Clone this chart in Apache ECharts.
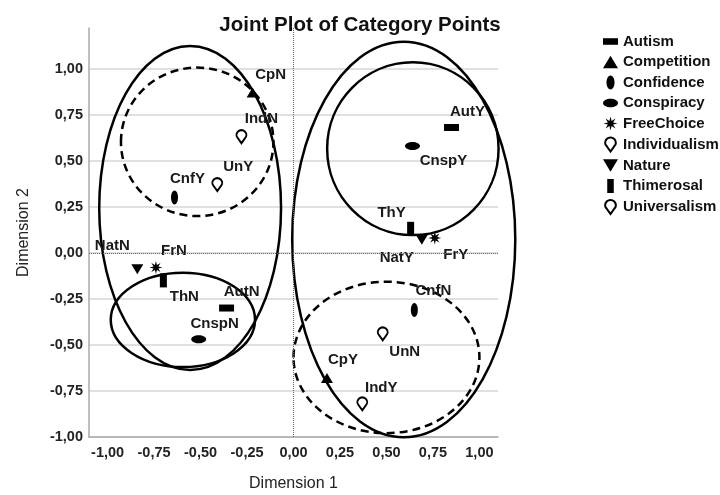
<!DOCTYPE html>
<html>
<head>
<meta charset="utf-8">
<script src="https://cdn.jsdelivr.net/npm/echarts@6/dist/echarts.min.js"></script>
<style>
  html, body { margin: 0; padding: 0; background: #fff; }
  #container { width: 720px; height: 495px; }
</style>
</head>
<body>
<div id="container"></div>
<script>
// data
var categories = ['Autism', 'Competition', 'Confidence', 'Conspiracy', 'FreeChoice',
    'Individualism', 'Nature', 'Thimerosal', 'Universalism'];
var pointNames = [['AutY', 'AutN'], ['CpY', 'CpN'], ['CnfY', 'CnfN'], ['CnspY', 'CnspN'], ['FrY', 'FrN'],
    ['IndY', 'IndN'], ['NatY', 'NatN'], ['ThY', 'ThN'], ['UnY', 'UnN']];
var dim1 = [[0.85, -0.36], [0.18, -0.22], [-0.64, 0.65], [0.64, -0.51], [0.76, -0.74],
    [0.37, -0.28], [0.69, -0.84], [0.63, -0.70], [-0.41, 0.48]];
var dim2 = [[0.68, -0.30], [-0.68, 0.87], [0.30, -0.31], [0.58, -0.47], [0.08, -0.08],
    [-0.82, 0.63], [0.07, -0.09], [0.13, -0.15], [0.37, -0.44]];

// ellipses drawn over the plot (centre, radii in dimension units)
var ellipseCx = [-0.556, -0.518, -0.595, 0.593, 0.642, 0.500];
var ellipseCy = [0.243, 0.602, -0.364, 0.072, 0.565, -0.568];
var ellipseRx = [0.489, 0.410, 0.388, 0.600, 0.461, 0.500];
var ellipseRy = [0.879, 0.403, 0.256, 1.073, 0.469, 0.411];
var ellipseDashed = [0, 1, 0, 0, 0, 1];

var xTicks = [-1, -0.75, -0.5, -0.25, 0, 0.25, 0.5, 0.75, 1];

// label placement (px offsets from the marker)
var labelOffset = {
    AutY: [16, -16], AutN: [15, -16],
    CpY: [16, -18], CpN: [18, -18],
    CnfY: [13, -19], CnfN: [19, -19],
    CnspY: [31, 15], CnspN: [16, -15],
    FrY: [21, 17], FrN: [18, -17],
    IndY: [19, -16], IndN: [20, -18],
    NatY: [-25, 18], NatN: [-25, -23],
    ThY: [-19, -16], ThN: [21, 16],
    UnY: [21, -18], UnN: [22, 18]
};

// symbols
function starPath(n, ro, ri) {
    var p = [];
    for (var i = 0; i < n * 2; i++) {
        var r = i % 2 ? ri : ro;
        var a = Math.PI * i / n - Math.PI / 2;
        p.push((i ? 'L' : 'M') + (ro + r * Math.cos(a)).toFixed(2) + ',' + (ro + r * Math.sin(a)).toFixed(2));
    }
    return 'path://' + p.join('') + 'Z';
}
var pinPath = 'path://M5,13L1.6,8.2C0.6,7.2 0,6.2 0,5C0,2.24 2.24,0 5,0C7.76,0 10,2.24 10,5C10,6.2 9.4,7.2 8.4,8.2Z';
var symbols = [
    { symbol: 'path://M0,0H16V7H0Z', size: [15, 7] },
    { symbol: 'path://M6,0L12,10H0Z', size: [12, 10] },
    { symbol: 'path://M4,0C6.21,0 8,3.13 8,7C8,10.87 6.21,14 4,14C1.79,14 0,10.87 0,7C0,3.13 1.79,0 4,0Z', size: [7, 14] },
    { symbol: 'path://M7,0C10.87,0 14,1.79 14,4C14,6.21 10.87,8 7,8C3.13,8 0,6.21 0,4C0,1.79 3.13,0 7,0Z', size: [15, 8] },
    { symbol: starPath(8, 7, 2.8), size: [13, 13] },
    { symbol: pinPath, size: [10, 13], hollow: true },
    { symbol: 'path://M0,0H12L6,10Z', size: [12, 10] },
    { symbol: 'path://M0,0H7V15H0Z', size: [7, 14] },
    { symbol: pinPath, size: [10, 13], hollow: true }
];

function fmt(v) {
    return v.toFixed(2).replace('.', ',');
}

var dom = document.getElementById('container');
var myChart = echarts.init(dom, null, { renderer: 'canvas' });

var series = [];

// ellipses
var ellipseData = [];
for (var e = 0; e < ellipseCx.length; e++) {
    ellipseData.push([ellipseCx[e], ellipseCy[e], ellipseRx[e], ellipseRy[e], ellipseDashed[e]]);
}
series.push({
    type: 'custom',
    silent: true,
    clip: false,
    z: 1,
    encode: { x: 0, y: 1 },
    data: ellipseData,
    renderItem: function (params, api) {
        var c = api.coord([api.value(0), api.value(1)]);
        var s = api.size([api.value(2), api.value(3)]);
        return {
            type: 'ellipse',
            shape: { cx: c[0], cy: c[1], rx: s[0], ry: s[1] },
            style: {
                fill: null,
                stroke: '#000',
                lineWidth: 2.5,
                lineDash: api.value(4) ? [8, 5] : null
            }
        };
    }
});

// points
for (var i = 0; i < categories.length; i++) {
    var pts = [];
    for (var j = 0; j < 2; j++) {
        var nm = pointNames[i][j];
        pts.push({
            name: nm,
            value: [dim1[i][j], dim2[i][j]],
            label: { offset: labelOffset[nm] }
        });
    }
    var s = {
        name: categories[i],
        type: 'scatter',
        z: 3,
        symbol: symbols[i].symbol,
        symbolSize: symbols[i].size,
        symbolKeepAspect: false,
        itemStyle: symbols[i].hollow
            ? { color: '#fff', borderColor: '#000', borderWidth: 2, opacity: 1 }
            : { color: '#000', opacity: 1 },
        label: {
            show: true,
            position: 'inside',
            align: 'center',
            verticalAlign: 'middle',
            formatter: '{b}',
            color: '#1a1a1a',
            fontWeight: 'bold',
            fontSize: 15
        },
        emphasis: { disabled: true },
        data: pts
    };
    if (i === 0) {
        s.markLine = {
            silent: true,
            symbol: 'none',
            label: { show: false },
            lineStyle: { type: 'dotted', color: '#666', width: 1 },
            data: [{ xAxis: 0 }, { yAxis: 0 }]
        };
    }
    series.push(s);
}

var option = {
    animation: false,
    textStyle: { fontFamily: 'Liberation Sans, Arial, sans-serif' },
    title: {
        text: 'Joint Plot of Category Points',
        left: 355,
        top: 10,
        textAlign: 'center',
        textStyle: { fontSize: 20.5, fontWeight: 'bold', color: '#111' }
    },
    legend: {
        orient: 'vertical',
        left: 598,
        top: 29,
        itemWidth: 15,
        itemHeight: 14,
        itemGap: 5.5,
        selectedMode: false,
        textStyle: { fontSize: 15, fontWeight: 'bold', color: '#111' },
        data: categories
    },
    grid: { left: 89, right: 222, top: 28, bottom: 58, outerBoundsMode: 'none' },
    xAxis: {
        type: 'value',
        min: -1.1,
        max: 1.1,
        name: 'Dimension 1',
        nameLocation: 'middle',
        nameGap: 39,
        nameTextStyle: { fontSize: 16, color: '#222' },
        axisLine: { onZero: false, lineStyle: { color: '#aaa', width: 1.5 } },
        axisTick: { show: false },
        splitLine: { show: false },
        axisLabel: {
            customValues: xTicks,
            formatter: fmt,
            margin: 8,
            fontSize: 14.5,
            fontWeight: 'bold',
            color: '#222'
        }
    },
    yAxis: {
        type: 'value',
        min: -1,
        max: 1.22,
        interval: 0.25,
        name: 'Dimension 2',
        nameLocation: 'middle',
        nameGap: 57,
        nameTextStyle: { fontSize: 16, color: '#222' },
        axisLine: { show: true, onZero: false, lineStyle: { color: '#aaa', width: 1.5 } },
        axisTick: { show: false },
        splitLine: { show: true, showMaxLine: false, lineStyle: { color: '#d6d6d6', width: 1.5 } },
        axisLabel: {
            formatter: fmt,
            showMaxLabel: false,
            margin: 6,
            fontSize: 14.5,
            fontWeight: 'bold',
            color: '#222'
        }
    },
    series: series
};

myChart.setOption(option);
window.addEventListener('resize', myChart.resize);
</script>
</body>
</html>
